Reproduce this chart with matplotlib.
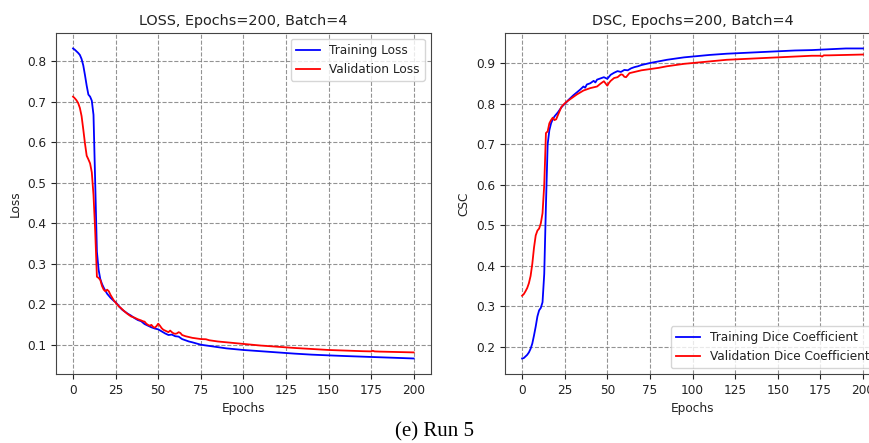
import matplotlib
matplotlib.use("Agg")
import matplotlib.pyplot as plt

# ------------------------------------------
# Data (epoch, value)
# ------------------------------------------
loss_epochs = [0, 1, 2, 3, 4, 5, 6, 7, 8, 9, 10, 11, 12, 13, 14, 15, 16, 17, 18, 19,
               20, 21, 22, 23, 24, 25, 26, 27, 28, 29, 30, 32, 34, 36, 38, 40, 42, 44,
               46, 48, 50, 52, 54, 56, 58, 60, 62, 64, 66, 68, 70, 75, 80, 85, 90, 95,
               100, 110, 120, 130, 140, 150, 160, 170, 180, 190, 200]
train_loss = [0.832, 0.829, 0.825, 0.821, 0.816, 0.806, 0.790, 0.766, 0.740, 0.718,
              0.713, 0.703, 0.668, 0.500, 0.330, 0.285, 0.262, 0.250, 0.241, 0.233,
              0.226, 0.221, 0.216, 0.212, 0.208, 0.205, 0.200, 0.195, 0.190, 0.186,
              0.183, 0.177, 0.172, 0.166, 0.161, 0.158, 0.151, 0.147, 0.143, 0.140,
              0.138, 0.133, 0.128, 0.124, 0.125, 0.121, 0.120, 0.114, 0.111, 0.108,
              0.106, 0.100, 0.097, 0.094, 0.091, 0.089, 0.087, 0.084, 0.081, 0.078,
              0.0755, 0.0737, 0.072, 0.0705, 0.069, 0.0675, 0.066]

val_loss_epochs = [0, 1, 2, 3, 4, 5, 6, 7, 8, 9, 10, 11, 12, 13, 14, 15, 16, 17, 18, 19,
                   20, 21, 22, 23, 24, 25, 26, 27, 28, 29, 30, 32, 34, 36, 38, 40, 41,
                   42, 43, 44, 45, 46, 47, 48, 49, 50, 51, 52, 53, 54, 55, 56, 57, 58,
                   59, 60, 61, 62, 63, 64, 66, 68, 70, 75, 78, 80, 85, 90, 95, 100, 110,
                   120, 130, 140, 150, 160, 170, 175, 176, 177, 180, 190, 200]
val_loss = [0.713, 0.709, 0.704, 0.697, 0.685, 0.665, 0.632, 0.597, 0.567, 0.558,
            0.548, 0.526, 0.470, 0.380, 0.268, 0.265, 0.260, 0.245, 0.236, 0.232,
            0.236, 0.232, 0.223, 0.216, 0.209, 0.204, 0.199, 0.194, 0.191, 0.187,
            0.183, 0.176, 0.170, 0.167, 0.163, 0.160, 0.158, 0.157, 0.152, 0.149,
            0.147, 0.149, 0.144, 0.142, 0.146, 0.152, 0.147, 0.141, 0.137, 0.135,
            0.133, 0.131, 0.135, 0.131, 0.128, 0.127, 0.128, 0.131, 0.129, 0.124,
            0.121, 0.119, 0.117, 0.114, 0.1135, 0.111, 0.108, 0.106, 0.104, 0.102,
            0.098, 0.095, 0.092, 0.0895, 0.087, 0.0855, 0.084, 0.0835, 0.085, 0.0835,
            0.083, 0.082, 0.081]

dsc_epochs = [0, 1, 2, 3, 4, 5, 6, 7, 8, 9, 10, 11, 12, 13, 14, 15, 16, 17, 18, 19,
              20, 21, 22, 23, 24, 25, 26, 27, 28, 29, 30, 32, 34, 36, 37, 38, 40, 42,
              43, 44, 46, 48, 50, 52, 54, 56, 58, 60, 62, 64, 66, 68, 70, 75, 80, 85,
              90, 95, 100, 110, 120, 130, 140, 150, 160, 170, 180, 190, 200]
train_dsc = [0.171, 0.172, 0.176, 0.180, 0.186, 0.195, 0.208, 0.228, 0.250, 0.275,
             0.290, 0.296, 0.310, 0.380, 0.550, 0.700, 0.735, 0.752, 0.762, 0.769,
             0.774, 0.779, 0.785, 0.791, 0.796, 0.800, 0.804, 0.809, 0.813, 0.817,
             0.821, 0.828, 0.835, 0.843, 0.840, 0.848, 0.851, 0.857, 0.853, 0.860,
             0.863, 0.866, 0.862, 0.872, 0.877, 0.881, 0.879, 0.884, 0.883, 0.888,
             0.891, 0.893, 0.896, 0.901, 0.905, 0.909, 0.912, 0.915, 0.917, 0.921,
             0.924, 0.926, 0.928, 0.930, 0.932, 0.933, 0.935, 0.937, 0.937]

val_dsc_epochs = [0, 1, 2, 3, 4, 5, 6, 7, 8, 9, 10, 11, 12, 13, 14, 15, 16, 17, 18, 19,
                  20, 21, 22, 23, 24, 25, 26, 27, 28, 29, 30, 32, 34, 36, 38, 40, 42,
                  44, 46, 48, 50, 51, 52, 54, 56, 58, 59, 60, 61, 62, 63, 64, 66, 68,
                  70, 75, 80, 85, 90, 95, 100, 110, 120, 130, 140, 150, 160, 170, 175,
                  176, 177, 180, 190, 200]
val_dsc = [0.326, 0.330, 0.337, 0.345, 0.357, 0.375, 0.405, 0.445, 0.475, 0.487,
           0.492, 0.505, 0.530, 0.600, 0.728, 0.732, 0.752, 0.760, 0.766, 0.760,
           0.762, 0.772, 0.782, 0.792, 0.797, 0.801, 0.805, 0.808, 0.811, 0.814,
           0.817, 0.823, 0.828, 0.833, 0.836, 0.839, 0.841, 0.843, 0.850, 0.856,
           0.845, 0.852, 0.857, 0.864, 0.866, 0.873, 0.872, 0.867, 0.866, 0.871,
           0.876, 0.877, 0.879, 0.881, 0.883, 0.886, 0.889, 0.893, 0.896, 0.899,
           0.901, 0.905, 0.909, 0.911, 0.913, 0.915, 0.917, 0.919, 0.919, 0.917,
           0.920, 0.920, 0.921, 0.922]

# ------------------------------------------
# Figure setup
# ------------------------------------------
plt.rcParams['font.family'] = ['DejaVu Sans']
plt.rcParams['font.size'] = 8.7
plt.rcParams['text.color'] = '#222222'
plt.rcParams['axes.labelcolor'] = '#222222'
plt.rcParams['xtick.color'] = '#222222'
plt.rcParams['ytick.color'] = '#222222'

fig = plt.figure(figsize=(8.7, 4.43), dpi=100)

# right panel runs past the right edge, as in the reference crop
ax1 = fig.add_axes([0.0644, 0.1558, 0.4307, 0.7698])
ax2 = fig.add_axes([0.5805, 0.1558, 0.4310, 0.7698])

# Loss
ax1.plot(loss_epochs, train_loss, color='blue', linewidth=1.3, label='Training Loss')
ax1.plot(val_loss_epochs, val_loss, color='red', linewidth=1.3, label='Validation Loss')
ax1.set_title('LOSS, Epochs=200, Batch=4', fontsize=10.4)
ax1.set_xlabel('Epochs')
ax1.set_ylabel('Loss')
ax1.set_xticks(range(0, 201, 25))
ax1.legend(loc='upper right')
ax1.grid(True, linestyle='--', color='gray', alpha=0.85)

# DSC
ax2.plot(dsc_epochs, train_dsc, color='blue', linewidth=1.3, label='Training Dice Coefficient')
ax2.plot(val_dsc_epochs, val_dsc, color='red', linewidth=1.3, label='Validation Dice Coefficient')
ax2.set_title('DSC, Epochs=200, Batch=4', fontsize=10.4)
ax2.set_xlabel('Epochs')
ax2.set_ylabel('CSC')
ax2.set_xticks(range(0, 201, 25))
ax2.legend(loc='lower right')
ax2.grid(True, linestyle='--', color='gray', alpha=0.85)

for ax in (ax1, ax2):
    for spine in ax.spines.values():
        spine.set_color('#444444')

# caption under both panels
fig.text(0.5, 0.014, '(e) Run 5', ha='center', va='baseline',
         family='Liberation Serif', fontsize=15, color='black')

fig.savefig('out.png', dpi=100)
